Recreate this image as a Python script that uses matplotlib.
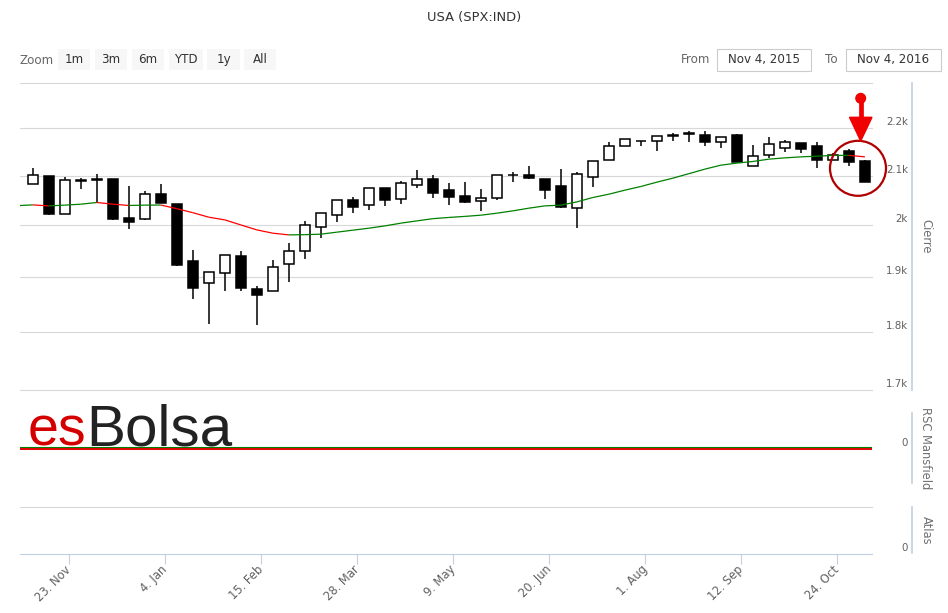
import numpy as np
import pandas as pd
import matplotlib
matplotlib.use("Agg")
import matplotlib.pyplot as plt
import matplotlib.dates as mdates
from matplotlib import transforms
from matplotlib.collections import LineCollection
from matplotlib.patches import Rectangle, Ellipse, Circle, Polygon

W, H = 948, 613

# ---- data: weekly S&P 500 candles, Nov 2015 - Nov 2016 ----
week_start = "2015-11-07"
opens = [2083, 2099, 2023, 2090, 2092, 2093, 2015, 2012, 2062, 2042,
         1930, 1890, 1908, 1940, 1878, 1875, 1926, 1950, 1997, 2020,
         2051, 2040, 2075, 2052, 2081, 2093, 2070, 2059, 2048, 2054,
         2101, 2102, 2094, 2078, 2034, 2097, 2133, 2163, 2173, 2174,
         2184, 2191, 2186, 2170, 2186, 2121, 2144, 2159, 2168, 2163,
         2133, 2151, 2131]
highs = [2117, 2100, 2098, 2096, 2104, 2093, 2078, 2068, 2083, 2042,
         1952, 1910, 1943, 1950, 1883, 1932, 1965, 2008, 2025, 2051,
         2057, 2075, 2075, 2089, 2111, 2101, 2085, 2087, 2072, 2102,
         2108, 2121, 2094, 2114, 2108, 2130, 2170, 2178, 2174, 2184,
         2191, 2194, 2195, 2182, 2188, 2164, 2181, 2176, 2168, 2170,
         2147, 2155, 2133]
lows = [2082, 2021, 2022, 2073, 2045, 2011, 1993, 2010, 2044, 1922,
        1860, 1815, 1875, 1875, 1813, 1875, 1892, 1935, 1976, 2006,
        2025, 2031, 2038, 2043, 2075, 2055, 2040, 2045, 2029, 2050,
        2087, 2093, 2052, 2035, 1994, 2076, 2133, 2162, 2163, 2151,
        2174, 2170, 2163, 2159, 2128, 2121, 2137, 2149, 2147, 2117,
        2132, 2120, 2087]
closes = [2102, 2022, 2091, 2091, 2094, 2013, 2006, 2063, 2045, 1924,
          1880, 1910, 1943, 1880, 1867, 1920, 1950, 2001, 2025, 2051,
          2037, 2075, 2050, 2084, 2094, 2065, 2056, 2047, 2055, 2102,
          2102, 2095, 2071, 2037, 2104, 2130, 2163, 2178, 2174, 2184,
          2185, 2188, 2170, 2182, 2128, 2141, 2166, 2170, 2155, 2133,
          2144, 2128, 2087]

# moving average (starts one week before the first candle)
ma_start = "2015-10-31"
ma_vals = [2038.9, 2040.5, 2038.5, 2040.0, 2041.9, 2045.3, 2042.0, 2039.3, 2040.0, 2040.2,
           2032.9, 2024.9, 2015.9, 2010.6, 2000.6, 1990.9, 1984.4, 1981.1, 1981.5, 1982.5,
           1986.4, 1990.3, 1994.2, 1998.7, 2004.1, 2008.6, 2013.0, 2015.4, 2017.5, 2019.9,
           2023.9, 2028.5, 2033.9, 2038.5, 2040.0, 2046.5, 2055.4, 2062.1, 2070.3, 2077.8,
           2086.7, 2094.9, 2104.2, 2113.6, 2121.9, 2126.2, 2129.6, 2134.5, 2137.2, 2139.3,
           2140.8, 2142.3, 2142.5, 2139.3]

rsc_level = 0.0

price_ticks = [1700, 1800, 1900, 2000, 2100, 2200, 2300]
price_labels = ["1.7k", "1.8k", "1.9k", "2k", "2.1k", "2.2k", ""]

tick_dates = ["2015-11-23", "2016-01-04", "2016-02-15", "2016-03-28", "2016-05-09",
              "2016-06-20", "2016-08-01", "2016-09-12", "2016-10-24"]
tick_labels = ["23. Nov", "4. Jan", "15. Feb", "28. Mar", "9. May",
               "20. Jun", "1. Aug", "12. Sep", "24. Oct"]

GRID = "#D8D8D8"
AXIS = "#C0D0E0"
LABEL = "#606060"


def box(x0, y0, x1, y1):
    # pixel box (top-left origin) -> figure fraction rect
    return [x0 / W, 1 - y1 / H, (x1 - x0) / W, (y1 - y0) / H]


fig = plt.figure(figsize=(W / 100, H / 100), dpi=100)
fig.patch.set_facecolor("white")

ax = fig.add_axes(box(20, 83.3, 872, 390.3))
ax_rsc = fig.add_axes(box(20, 390.3, 872, 506.7), sharex=ax)
ax_atl = fig.add_axes(box(20, 506.7, 872, 554.3), sharex=ax)
for a in (ax, ax_rsc, ax_atl):
    a.patch.set_facecolor("none")

# ---- candles ----
x = mdates.date2num(pd.date_range(week_start, periods=len(closes), freq="7D"))
o, h, l, c = map(np.array, (opens, highs, lows, closes))
up = c >= o
bottom = np.minimum(o, c)
height = np.maximum(np.abs(c - o), 0.8)
ax.vlines(x, l, h, color="black", lw=1.1, zorder=2)
ax.bar(x, height, width=4.2, bottom=bottom, color=np.where(up, "white", "black"),
       edgecolor="black", linewidth=1.1, zorder=3)

# ---- moving average, green while rising, red while falling ----
ma_x = mdates.date2num(pd.date_range(ma_start, periods=len(ma_vals), freq="7D"))
pts = np.column_stack([ma_x, ma_vals])
segs = np.stack([pts[:-1], pts[1:]], axis=1)
cols = ["#008000" if b >= a else "#FF0000" for a, b in zip(ma_vals[:-1], ma_vals[1:])]
ax.add_collection(LineCollection(segs, colors=cols, linewidths=0.9, zorder=4))

ax.set_yscale("log")
ax.set_ylim(1700, 2300)
ax.yaxis.set_minor_locator(matplotlib.ticker.NullLocator())
ax.set_yticks([])
for v in price_ticks:
    ax.axhline(v, color=GRID, lw=0.8, zorder=0, clip_on=False)

lab_off = transforms.ScaledTranslation(0, 0.06, fig.dpi_scale_trans)
lab_x = (908 - 20) / 852
for v, s in zip(price_ticks, price_labels):
    ax.text(lab_x, v, s, transform=ax.get_yaxis_transform() + lab_off,
            ha="right", va="center", fontsize=7.4, color=LABEL)

# x range
t0 = pd.Timestamp("2015-11-23")
ax.set_xlim(mdates.date2num(t0 - pd.Timedelta(days=21.6)),
            mdates.date2num(t0 + pd.Timedelta(days=351.1)))

# ---- RSC Mansfield panel ----
ax_rsc.set_ylim(-1, 1)
ax_rsc.plot([0, 1], [rsc_level, rsc_level], color="#008000", lw=0.8,
            transform=ax_rsc.get_yaxis_transform()
            + transforms.ScaledTranslation(0, 0.012, fig.dpi_scale_trans))
ax_rsc.plot([0, 1], [rsc_level, rsc_level], color="#E00000", lw=1.4,
            transform=ax_rsc.get_yaxis_transform())
ax_rsc.text(lab_x, rsc_level, "0", transform=ax_rsc.get_yaxis_transform() + lab_off,
            ha="right", va="center", fontsize=7.4, color=LABEL)

# ---- Atlas panel ----
ax_atl.set_ylim(0, 1)
ax_atl.text(lab_x, 0, "0", transform=ax_atl.get_yaxis_transform() + lab_off,
            ha="right", va="center", fontsize=7.4, color=LABEL)

for a in (ax, ax_rsc, ax_atl):
    for s in a.spines.values():
        s.set_visible(False)
    a.tick_params(axis="x", bottom=False, labelbottom=False)
for a in (ax_rsc, ax_atl):
    a.set_yticks([])

ax_rsc.spines["bottom"].set_visible(True)
ax_rsc.spines["bottom"].set_color(GRID)
ax_rsc.spines["bottom"].set_linewidth(0.8)

ax_atl.spines["bottom"].set_visible(True)
ax_atl.spines["bottom"].set_color(AXIS)
ax_atl.spines["bottom"].set_linewidth(0.8)
ax_atl.set_xticks(mdates.date2num(pd.to_datetime(tick_dates)))
ax_atl.set_xticklabels(tick_labels)
ax_atl.tick_params(axis="x", bottom=True, labelbottom=True, direction="out",
                   length=7.2, width=0.8, color=AXIS, pad=2.5,
                   labelsize=8.3, labelcolor=LABEL)
plt.setp(ax_atl.get_xticklabels(), rotation=45, ha="right", va="center",
         rotation_mode="anchor")

# ---- overlay in pixel coordinates for the chart chrome ----
ui = fig.add_axes([0, 0, 1, 1], zorder=10)
ui.set_xlim(0, W)
ui.set_ylim(H, 0)
ui.axis("off")

ui.text(474, 17, "USA (SPX:IND)", ha="center", va="center", fontsize=9.4, color="#333333")

ui.text(20, 60, "Zoom", ha="left", va="center", fontsize=8.6, color="#666666")
buttons = [("1m", 58, 90), ("3m", 95, 127), ("6m", 132, 164),
           ("YTD", 169, 203), ("1y", 207, 240), ("All", 244, 276)]
for name, bx0, bx1 in buttons:
    ui.add_patch(Rectangle((bx0, 49), bx1 - bx0, 21, facecolor="#F7F7F7", edgecolor="none"))
    ui.text((bx0 + bx1) / 2, 59.5, name, ha="center", va="center", fontsize=8.6, color="#333333")

ui.text(710, 59.5, "From", ha="right", va="center", fontsize=8.6, color="#666666")
ui.text(838, 59.5, "To", ha="right", va="center", fontsize=8.6, color="#666666")
for bx0, bx1, s in [(717, 811, "Nov 4, 2015"), (846, 941, "Nov 4, 2016")]:
    ui.add_patch(Rectangle((bx0, 48.5), bx1 - bx0, 22, facecolor="white",
                           edgecolor="#CCCCCC", lw=0.8))
    ui.text((bx0 + bx1) / 2, 59.5, s, ha="center", va="center", fontsize=8.6, color="#333333")

# right-hand axis lines and titles
for y0, y1 in [(83.3, 390.3), (412.7, 482.7), (506.7, 553.3)]:
    ui.plot([911.7, 911.7], [y0, y1], color=AXIS, lw=1.2)
for ty, s in [(236, "Cierre"), (448, "RSC Mansfield"), (530, "Atlas")]:
    ui.text(926, ty, s, rotation=270, ha="center", va="center", fontsize=8.3, color="#707070")

# watermark
ui.text(86, 445, "es", ha="right", va="baseline", fontsize=40,
        family="Liberation Sans", color="#D40000")
ui.text(86, 445, "Bolsa", ha="left", va="baseline", fontsize=42,
        family="Liberation Sans", color="#222222")

# highlight on the last candle
ui.add_patch(Ellipse((858, 168.3), 56, 55, facecolor="none", edgecolor="#B00000", lw=1.6))
ui.add_patch(Circle((860.7, 98.3), 4.8, color="#F00000"))
ui.plot([860.7, 860.7], [98.3, 118], color="#F00000", lw=3.4, solid_capstyle="butt")
ui.add_patch(Polygon([(849.5, 117.3), (872, 117.3), (860.7, 141)], closed=True,
                     color="#F00000"))

fig.savefig("out.png", dpi=100)
